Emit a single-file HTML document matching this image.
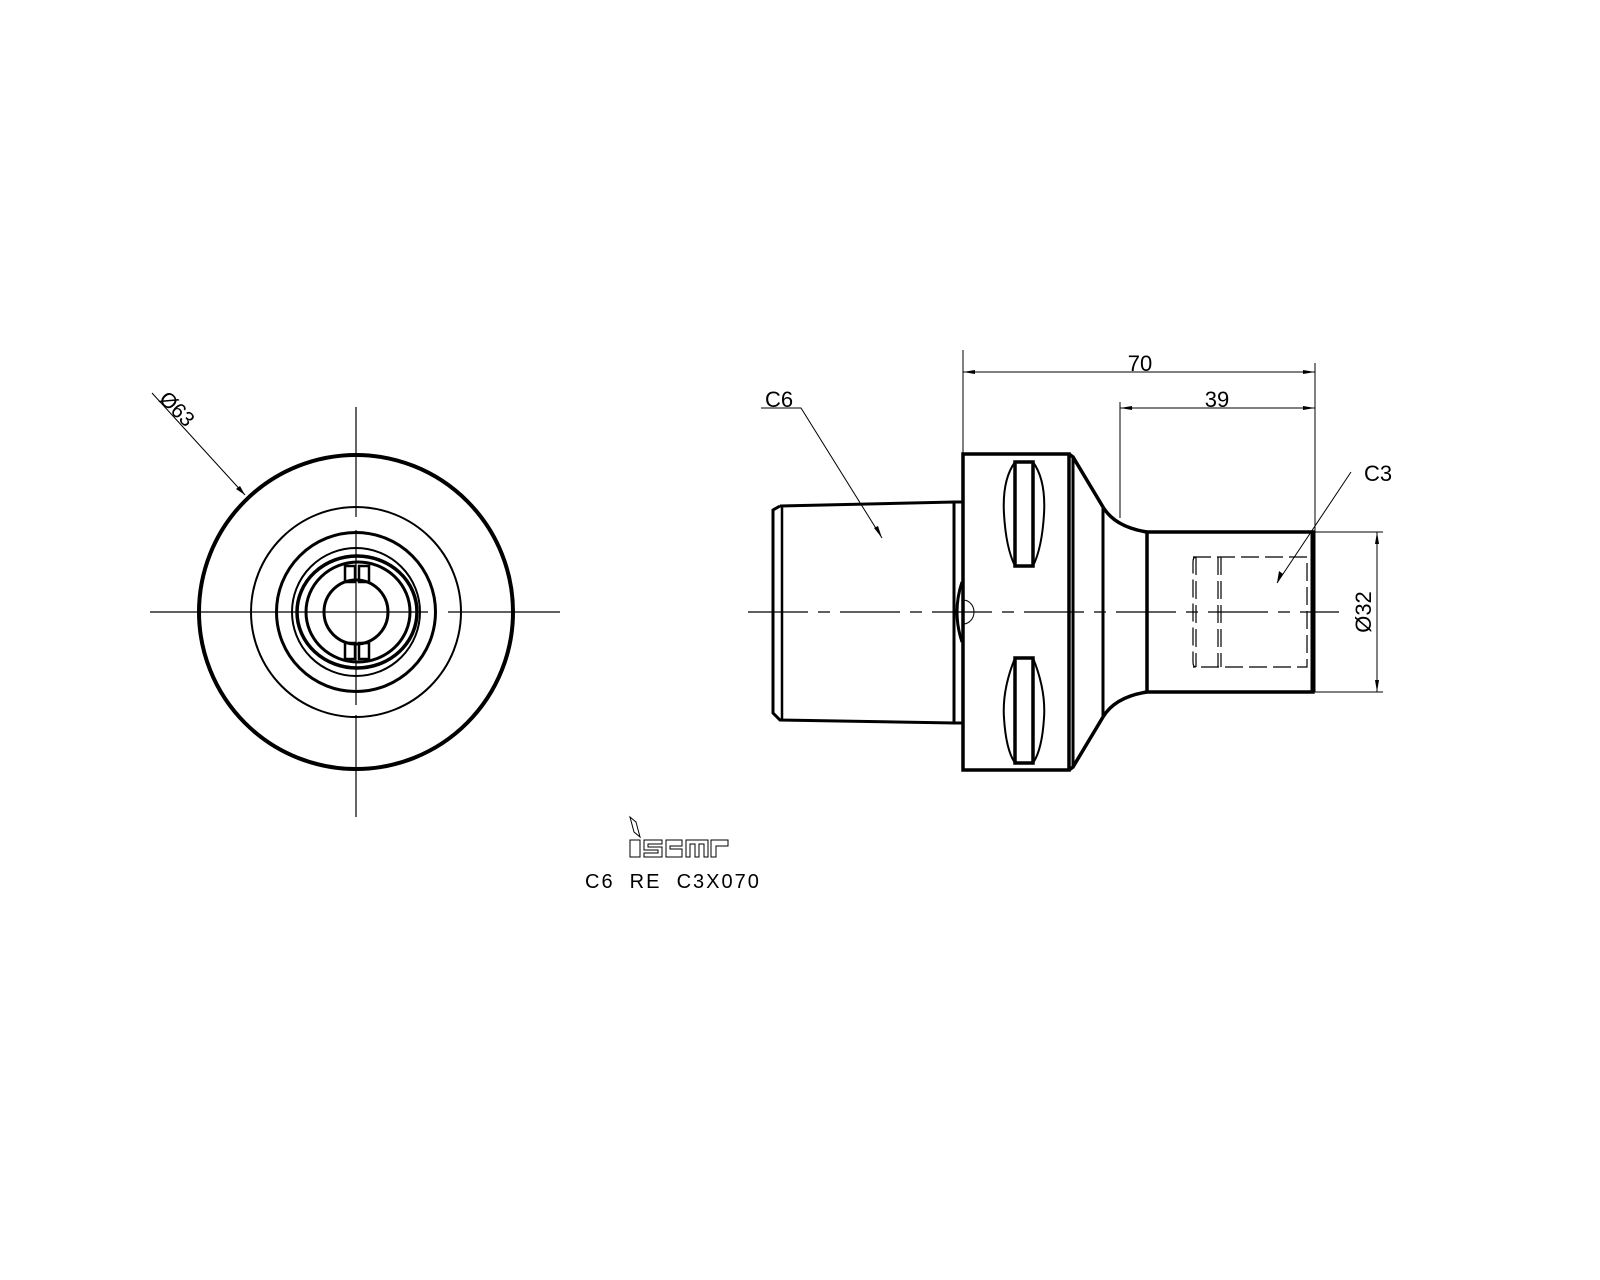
<!DOCTYPE html>
<html><head><meta charset="utf-8"><style>
html,body{margin:0;padding:0;background:#fff;}
svg{display:block;}
text{font-family:"Liberation Sans",sans-serif;fill:#000;}
</style></head><body>
<svg width="1600" height="1280" viewBox="0 0 1600 1280" xmlns="http://www.w3.org/2000/svg">
<rect width="1600" height="1280" fill="#fff"/>
<g fill="none" stroke="#000">
<!-- LEFT VIEW -->
<line x1="150" y1="612" x2="428" y2="612" stroke-width="1.2"/>
<line x1="448" y1="612" x2="560" y2="612" stroke-width="1.2"/>
<line x1="356" y1="407" x2="356" y2="517" stroke-width="1.2"/>
<line x1="356" y1="530" x2="356" y2="705" stroke-width="1.2"/>
<line x1="356" y1="715" x2="356" y2="817" stroke-width="1.2"/>
<circle cx="356" cy="612" r="157" stroke-width="4"/>
<circle cx="356" cy="612" r="105" stroke-width="2"/>
<circle cx="356" cy="612" r="79.5" stroke-width="3"/>
<circle cx="356" cy="612" r="64" stroke-width="2"/>
<ellipse cx="357" cy="612" rx="60" ry="56" stroke-width="3.5"/>
<ellipse cx="358" cy="612" rx="52" ry="50" stroke-width="3"/>
<circle cx="356" cy="612" r="32" stroke-width="3"/>
<rect x="345" y="566" width="10" height="16" stroke-width="2.5"/>
<rect x="359" y="566" width="10" height="16" stroke-width="2.5"/>
<rect x="345" y="643" width="10" height="16" stroke-width="2.5"/>
<rect x="359" y="643" width="10" height="16" stroke-width="2.5"/>
<line x1="152" y1="393" x2="245" y2="495" stroke-width="1"/>
</g>
<polygon points="245,495 236,489 240,486" fill="#000"/>
<text x="0" y="0" font-size="21" transform="translate(158,400) rotate(45)">Ø63</text>

<!-- RIGHT VIEW -->
<g fill="none" stroke="#000">
<line x1="748" y1="612" x2="1339" y2="612" stroke-width="1.2" stroke-dasharray="60,10,12,10"/>
<polyline points="780,506 954,502 954,723 780,720 773,713 773,510 780,506" stroke-width="3"/>
<line x1="782" y1="506" x2="782" y2="720" stroke-width="2.5"/>
<rect x="954" y="502" width="9" height="221" stroke-width="3"/>
<rect x="963" y="454" width="106" height="316" stroke-width="3.5"/>
<line x1="1073" y1="457" x2="1073" y2="767" stroke-width="3"/>
<path d="M1069,454 L1073,457 L1103,507 Q1115,527 1147,532" stroke-width="3.5"/>
<path d="M1069,770 L1073,767 L1103,717 Q1115,697 1147,692" stroke-width="3.5"/>
<line x1="1103" y1="507" x2="1103" y2="717" stroke-width="3"/>
<path d="M1015,462 Q1002,480 1004,514 Q1006,548 1015,566 M1033,462 Q1046,480 1044,514 Q1042,548 1033,566" stroke-width="2"/>
<rect x="1015" y="462" width="18" height="104" stroke-width="3.5"/>
<path d="M1015,658 Q1002,690 1004,718 Q1006,750 1015,763 M1033,658 Q1046,690 1044,718 Q1042,750 1033,763" stroke-width="2"/>
<rect x="1015" y="658" width="18" height="105" stroke-width="3.5"/>
<path d="M962,582 Q952,612 962,642" stroke-width="3"/>
<path d="M963,600 A11,12 0 0 1 963,624" stroke-width="1"/>
<rect x="1147" y="532" width="166" height="160" stroke-width="3.5"/>
<line x1="1313" y1="532" x2="1313" y2="692" stroke-width="5"/>
<g stroke-width="1.2" stroke-dasharray="18,6">
<path d="M1193,557 L1307,557 L1307,667 L1193,667"/>
<path d="M1196,557 Q1193,557 1193,562 L1193,662 Q1193,667 1196,667"/>
<line x1="1196" y1="557" x2="1196" y2="667"/>
<line x1="1218" y1="557" x2="1218" y2="667"/>
<line x1="1221" y1="557" x2="1221" y2="667"/>
</g>
<line x1="963" y1="350" x2="963" y2="454" stroke-width="1"/>
<line x1="1315" y1="363" x2="1315" y2="532" stroke-width="1"/>
<line x1="963" y1="372" x2="1315" y2="372" stroke-width="1"/>
<line x1="1120" y1="402" x2="1120" y2="518" stroke-width="1"/>
<line x1="1120" y1="408" x2="1315" y2="408" stroke-width="1"/>
<line x1="1315" y1="532" x2="1383" y2="532" stroke-width="1"/>
<line x1="1315" y1="692" x2="1383" y2="692" stroke-width="1"/>
<line x1="1377" y1="532" x2="1377" y2="692" stroke-width="1"/>
<polyline points="761,408 801,408 882,538" stroke-width="1"/>
<line x1="1351" y1="472" x2="1277" y2="583" stroke-width="1"/>
</g>
<g fill="#000">
<polygon points="963,372 975,370 975,374"/>
<polygon points="1315,372 1303,370 1303,374"/>
<polygon points="1120,408 1132,406 1132,410"/>
<polygon points="1315,408 1303,406 1303,410"/>
<polygon points="1377,532 1375,544 1379,544"/>
<polygon points="1377,692 1375,680 1379,680"/>
<polygon points="882,538 874,528 878,526"/>
<polygon points="1277,583 1279,571 1283,574"/>
</g>
<text x="1140" y="371" font-size="22" text-anchor="middle">70</text>
<text x="1217" y="407" font-size="22" text-anchor="middle">39</text>
<text x="765" y="407" font-size="22">C6</text>
<text x="1364" y="481" font-size="22">C3</text>
<text font-size="22" text-anchor="middle" transform="translate(1371,612) rotate(-90)">Ø32</text>

<g fill="none" stroke="#000" stroke-width="1">
<polygon points="630,817 636,822 640,837 634,832"/>
<rect x="630" y="840" width="10" height="17"/>
<path d="M644,840 h18 v4 h-14 v3 h14 v10 h-18 v-4 h14 v-3 h-14 z"/>
<path d="M666,840 h16 v6 h-12 v3 h12 v8 h-16 z"/>
<path d="M686,840 h22 v17 h-4 v-13 h-5 v13 h-4 v-13 h-5 v13 h-4 z"/>
<path d="M711,840 h17 v6 h-12 v11 h-5 z"/>
</g>
<text x="585" y="888" font-size="20" letter-spacing="2" xml:space="preserve">C6  RE  C3X070</text>
</svg>
</body></html>
